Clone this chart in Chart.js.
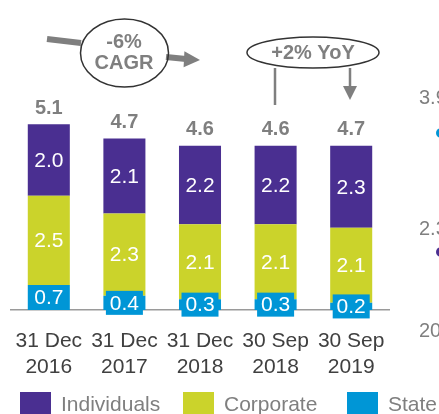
<!DOCTYPE html>
<html>
<head>
<meta charset="utf-8">
<script src="https://cdn.jsdelivr.net/npm/chart.js@4/dist/chart.umd.min.js"></script>
<style>
  html, body { margin: 0; padding: 0; background: #fff; }
  #wrap { width: 439px; height: 414px; }
</style>
</head>
<body>
<div id="wrap"><canvas id="chart" width="439" height="414"></canvas></div>
<script>
'use strict';

// data
const categories = [['31 Dec', '2016'], ['31 Dec', '2017'], ['31 Dec', '2018'], ['30 Sep', '2018'], ['30 Sep', '2019']];
const state = [0.7, 0.4, 0.3, 0.3, 0.2];
const corporate = [2.5, 2.3, 2.1, 2.1, 2.1];
const individuals = [2.0, 2.1, 2.2, 2.2, 2.3];
const totals = [5.1, 4.7, 4.6, 4.6, 4.7];
const sideValues = ['3.9', '2.3', '20'];

const PURPLE = '#4a2f91';
const LIME = '#cbd32b';
const BLUE = '#0096d6';
const GREY = '#7f7f7f';
const FONT = "'Liberation Sans', Arial, sans-serif";

function ellipse(ctx, cx, cy, rx, ry) {
    ctx.beginPath();
    ctx.ellipse(cx, cy, rx, ry, 0, 0, Math.PI * 2);
    ctx.stroke();
}

function arrowHead(ctx, x, y, dx, dy, len, half) {
    // tip at x,y pointing along dx,dy
    const nx = -dy, ny = dx;
    ctx.beginPath();
    ctx.moveTo(x, y);
    ctx.lineTo(x - dx * len + nx * half, y - dy * len + ny * half);
    ctx.lineTo(x - dx * len - nx * half, y - dy * len - ny * half);
    ctx.closePath();
    ctx.fill();
}

const labelsPlugin = {
    id: 'labels',
    afterDraw(chart) {
        const ctx = chart.ctx;
        ctx.save();
        ctx.textAlign = 'center';
        ctx.textBaseline = 'middle';

        const mState = chart.getDatasetMeta(0).data;
        const mCorp = chart.getDatasetMeta(1).data;
        const mInd = chart.getDatasetMeta(2).data;

        // white values inside segments
        ctx.fillStyle = '#fff';
        ctx.font = '21px ' + FONT;
        mInd.forEach((b, i) => {
            ctx.fillText(individuals[i].toFixed(1), b.x, (b.y + b.base) / 2 + 1);
        });
        mCorp.forEach((b, i) => {
            ctx.fillText(corporate[i].toFixed(1), b.x, (b.y + b.base) / 2 + 1);
        });
        // state: small values get a blue box
        mState.forEach((b, i) => {
            const cy = (b.y + b.base) / 2;
            ctx.fillStyle = BLUE;
            ctx.fillRect(b.x - 18.5, cy - 12, 37, 24);
            ctx.fillStyle = '#fff';
            ctx.fillText(state[i].toFixed(1), b.x, cy + 1);
        });

        // totals
        ctx.fillStyle = GREY;
        ctx.font = 'bold 20px ' + FONT;
        mInd.forEach((b, i) => {
            ctx.fillText(totals[i].toFixed(1), b.x, b.y - 16);
        });

        // CAGR annotation
        ctx.strokeStyle = GREY;
        ctx.fillStyle = GREY;
        ctx.lineWidth = 6;
        ctx.beginPath();
        ctx.moveTo(47, 39);
        ctx.lineTo(81, 43);
        ctx.stroke();
        ctx.beginPath();
        ctx.moveTo(166, 57);
        ctx.lineTo(186, 59);
        ctx.stroke();
        arrowHead(ctx, 200, 60, 1, 0.05, 16, 8);
        ctx.strokeStyle = '#333';
        ctx.lineWidth = 1.5;
        ellipse(ctx, 124.5, 53, 44, 34);
        ctx.font = 'bold 20px ' + FONT;
        ctx.fillText('-6%', 124, 42);
        ctx.fillText('CAGR', 124, 63);

        // YoY annotation
        ctx.strokeStyle = '#333';
        ctx.lineWidth = 1.5;
        ellipse(ctx, 313, 52.5, 66, 15.5);
        ctx.fillStyle = GREY;
        ctx.fillText('+2% YoY', 313, 53);
        ctx.strokeStyle = GREY;
        ctx.lineWidth = 2.5;
        ctx.beginPath();
        ctx.moveTo(275, 68);
        ctx.lineTo(275, 105);
        ctx.moveTo(350, 68);
        ctx.lineTo(350, 88);
        ctx.stroke();
        arrowHead(ctx, 350, 100, 0, 1, 14, 7);

        // legend
        const legend = [['Individuals', PURPLE, 20], ['Corporate', LIME, 183], ['State', BLUE, 347]];
        ctx.font = '21px ' + FONT;
        ctx.textAlign = 'left';
        legend.forEach(([txt, col, x]) => {
            ctx.fillStyle = col;
            ctx.fillRect(x, 392, 31, 24);
            ctx.fillStyle = GREY;
            ctx.fillText(txt, x + 41, 405);
        });

        // cut-off neighbouring chart
        ctx.fillStyle = GREY;
        ctx.font = '20px ' + FONT;
        ctx.fillText(sideValues[0], 419, 98);
        ctx.fillText(sideValues[1], 419, 229);
        ctx.fillText(sideValues[2], 419, 331);
        ctx.fillStyle = BLUE;
        ctx.beginPath();
        ctx.arc(441, 133, 5, 0, Math.PI * 2);
        ctx.fill();
        ctx.fillStyle = PURPLE;
        ctx.beginPath();
        ctx.arc(441, 252, 5, 0, Math.PI * 2);
        ctx.fill();
        ctx.restore();
    }
};

new Chart(document.getElementById('chart').getContext('2d'), {
    type: 'bar',
    data: {
        labels: categories,
        datasets: [{
            label: 'State',
            data: state,
            backgroundColor: BLUE,
        }, {
            label: 'Corporate',
            data: corporate,
            backgroundColor: LIME,
        }, {
            label: 'Individuals',
            data: individuals,
            backgroundColor: PURPLE,
        }],
    },
    options: {
        responsive: false,
        animation: false,
        layout: { padding: { top: 42, left: 11, right: 50, bottom: 0 } },
        datasets: { bar: { barPercentage: 0.556, categoryPercentage: 1 } },
        plugins: { legend: { display: false }, tooltip: { enabled: false } },
        scales: {
            x: {
                stacked: true,
                grid: { display: false, drawTicks: false },
                border: { display: true, color: '#9a9a9a', width: 1.5 },
                ticks: { color: '#404040', font: { family: FONT, size: 21 }, padding: 19, maxRotation: 0 },
                afterFit(scale) {
                    scale.height = 104;
                    scale.paddingLeft = 0;
                    scale.paddingRight = 0;
                }
            },
            y: {
                stacked: true,
                display: false,
                min: 0,
                max: 7.5
            }
        }
    },
    plugins: [labelsPlugin]
});
</script>
</body>
</html>
